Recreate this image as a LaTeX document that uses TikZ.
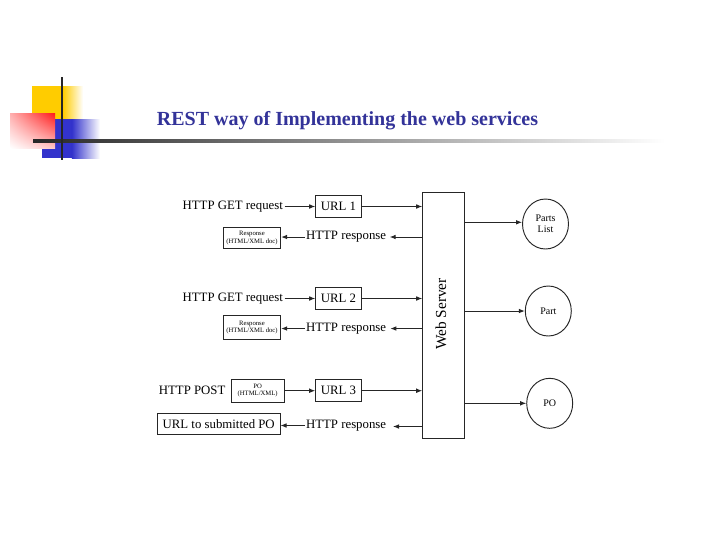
\documentclass[tikz,border=0pt]{standalone}
\usepackage{fontspec}
\setmainfont{Liberation Serif}
\usetikzlibrary{arrows.meta,shapes.geometric,shadings}
\definecolor{titleblue}{RGB}{51,51,153}
\definecolor{decoyellow}{RGB}{255,204,0}
\definecolor{decoblue}{RGB}{51,51,204}
\definecolor{decored}{RGB}{255,25,25}
\begin{document}
\begin{tikzpicture}[x=0.75pt,y=-0.75pt,
  lbl/.style={font=\fontsize{9.6}{11}\selectfont, inner sep=1pt},
  urlbox/.style={draw=black!85, line width=0.7pt, minimum width=34.2pt, minimum height=16.2pt, inner sep=0pt, font=\fontsize{9.6}{11}\selectfont},
  tinybox/.style={draw=black!85, line width=0.7pt, minimum width=43pt, minimum height=16pt, inner sep=0pt, align=center, font=\fontsize{5}{5.5}\selectfont},
  conn/.style={line width=0.7pt, draw=black!85, -{Latex[length=4.5pt,width=3.5pt]}},
  res/.style={ellipse, draw=black!85, line width=0.7pt, minimum width=34.5pt, minimum height=37.5pt, inner sep=0pt, align=center, font=\fontsize{7.5}{8.5}\selectfont}]
\useasboundingbox (0,0) rectangle (720,540);
\fill[white] (0,0) rectangle (720,540);
% decoration
\fill[decoyellow] (32,86) rectangle (63,120);
\shade[left color=decoyellow, right color=white] (62.9,86) rectangle (83,120);
\fill[decoblue] (42,119) rectangle (72,158);
\shade[left color=decoblue, right color=white] (71.9,119) rectangle (100,158);
\shade[upper left=decored!35, upper right=decored, lower left=white, lower right=decored!25] (10,113) rectangle (55,148);
\shade[left color=black!85, right color=white] (33,139.8) rectangle (665,142.3);
\fill[black!85] (60.5,77) rectangle (63,160);
% title
\node[font=\fontsize{15}{18}\selectfont\bfseries, text=titleblue] (title) at (347.5,121) {REST way of Implementing the web services};
% server
\node[draw=black!85, line width=0.7pt, minimum width=31.5pt, minimum height=184.8pt, inner sep=0pt] (server) at (443.7,315.5) {};
\node[rotate=90, font=\fontsize{11.5}{13}\selectfont] (wslabel) at (441,314) {Web Server};
% resources
\node[res] (pl) at (545.5,224) {Parts\\List};
\node[res] (part) at (548.3,311) {Part};
\node[res] (po) at (549.7,403.3) {PO};
% group 1
\node[urlbox] (url1) at (338.5,206.5) {URL 1};
\node[lbl, anchor=east] (req1) at (284.5,206.5) {HTTP GET request};
\node[tinybox] (resp1) at (252,238) {Response\\(HTML/XML doc)};
\node[lbl, anchor=west] (hr1) at (304.5,237) {HTTP response};
% group 2
\node[urlbox] (url2) at (338.5,298.5) {URL 2};
\node[lbl, anchor=east] (req2) at (284.5,298.5) {HTTP GET request};
\node[tinybox, minimum height=18pt] (resp2) at (252,327.5) {Response\\(HTML/XML doc)};
\node[lbl, anchor=west] (hr2) at (304.5,328.5) {HTTP response};
% group 3
\node[lbl, anchor=east] (post) at (227,390.7) {HTTP POST};
\node[urlbox] (url3) at (338.5,390.7) {URL 3};
\node[tinybox, minimum width=40pt, minimum height=17.5pt] (pobox) at (257.7,390.7) {PO\\(HTML/XML)};
\node[draw=black!85, line width=0.7pt, minimum width=92pt, minimum height=16.3pt, inner sep=0pt, font=\fontsize{9.6}{11}\selectfont] (subm) at (218.7,424) {URL to submitted PO};
\node[lbl, anchor=west] (hr3) at (304.5,425.5) {HTTP response};
% connectors
\draw[conn] (req1.east) -- (url1.west);
\draw[conn] (url1.east) -- (url1.east -| server.west);
\draw[conn] (server.west |- hr1.east) -- ([xshift=1.5pt]hr1.east);
\draw[conn] (hr1.west) -- (hr1.west -| resp1.east);
\draw[conn] (req2.east) -- (url2.west);
\draw[conn] (url2.east) -- (url2.east -| server.west);
\draw[conn] (server.west |- hr2.east) -- ([xshift=2pt]hr2.east);
\draw[conn] (hr2.west) -- (hr2.west -| resp2.east);
\draw[conn] (pobox.east) -- (url3.west);
\draw[conn] (url3.east) -- (url3.east -| server.west);
\draw[conn] ([yshift=-0.75pt]server.west |- hr3.east) -- ([xshift=4pt,yshift=-0.75pt]hr3.east);
\draw[conn] (hr3.west) -- (hr3.west -| subm.east);
\draw[conn] (server.east |- 0,222.3) -- (pl.west |- 0,222.3);
\draw[conn] (server.east |- part.west) -- (part.west);
\draw[conn] (server.east |- po.west) -- (po.west);
\end{tikzpicture}
\end{document}
